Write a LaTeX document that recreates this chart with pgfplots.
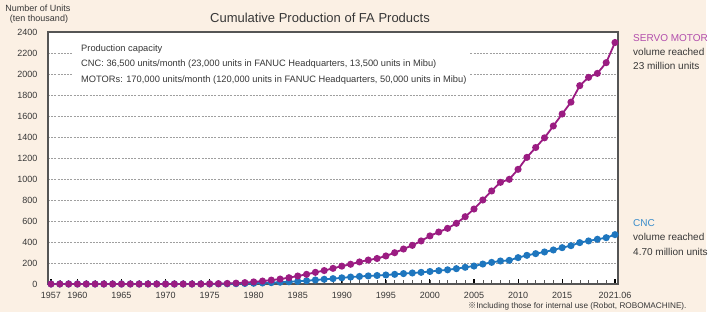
\documentclass[border=0pt]{standalone}
\usepackage{pgfplots}
\pgfplotsset{compat=1.18}
\usepackage{fontspec}
\setmainfont{Liberation Sans}
\newfontfamily\cjk{Noto Sans CJK JP}
\definecolor{bgpeach}{RGB}{251,240,228}
\definecolor{servo}{RGB}{155,28,130}
\definecolor{cncblue}{RGB}{30,118,190}
\definecolor{servolbl}{RGB}{178,78,172}
\definecolor{cnclbl}{RGB}{58,141,203}
\definecolor{txt}{RGB}{55,55,55}
\definecolor{frame}{RGB}{85,85,85}
\begin{document}
\begin{tikzpicture}[x=1pt,y=1pt]
\fill[bgpeach] (0,0) rectangle (706,312);
\useasboundingbox (0,0) rectangle (720,312);
\begin{axis}[
  at={(48pt,28pt)}, anchor=south west,
  scale only axis, width=570pt, height=252pt,
  xmin=1956.66, xmax=2021.34, ymin=0, ymax=2400,
  axis background/.style={fill=white},
  axis line style={frame, line width=1.1pt},
  ytick={0,200,400,600,800,1000,1200,1400,1600,1800,2000,2200,2400},
  xtick={1957,1960,1965,1970,1975,1980,1985,1990,1995,2000,2005,2010,2015,2021},
  xticklabels={1957,1960,1965,1970,1975,1980,1985,1990,1995,2000,2005,2010,2015,2021.06},
  minor xtick={1957,1958,...,2021},
  xtick pos=lower, ytick pos=left,
  tick align=inside,
  major x tick style={black, line width=1.1pt},
  minor x tick style={frame, line width=0.5pt},
  major tick length=5pt, minor tick length=4pt,
  ytick style={draw=none},
  ymajorgrids,
  major grid style={gray!75, dashed, line width=0.5pt, dash pattern=on 2pt off 1.2pt},
  /pgf/number format/1000 sep={},
  /pgf/number format/assume math mode=true,
  ticklabel style={font=\fontsize{9}{10}\selectfont, text=txt},
  yticklabel style={xshift=-7pt},
  xticklabel style={yshift=-4.5pt},
  clip=false,
]
\fill[white] (axis cs:1959.5,1860) rectangle (axis cs:2004.5,2330);
\addplot[cncblue, line width=1.8pt, mark=*, mark size=2.6pt] coordinates {
(1957,0)(1958,0)(1959,0)(1960,0)(1961,0)(1962,0)(1963,0)(1964,0)(1965,0)(1966,0)
(1967,0)(1968,0)(1969,0)(1970,0)(1971,0)(1972,0)(1973,0)(1974,0)(1975,0)(1976,1)
(1977,2)(1978,3)(1979,5)(1980,7)(1981,10)(1982,13)(1983,17)(1984,21)(1985,25)(1986,31)
(1987,38)(1988,45)(1989,51)(1990,59)(1991,66)(1992,72)(1993,77)(1994,81)(1995,86)(1996,92)
(1997,99)(1998,105)(1999,111)(2000,119)(2001,127)(2002,135)(2003,146)(2004,159)(2005,171)(2006,190)
(2007,206)(2008,219)(2009,225)(2010,251)(2011,273)(2012,289)(2013,305)(2014,324)(2015,346)(2016,365)
(2017,394)(2018,410)(2019,426)(2020,441)(2021,470)
};
\addplot[servo, line width=1.8pt, mark=*, mark size=2.6pt] coordinates {
(1957,0)(1958,0)(1959,0)(1960,0)(1961,0)(1962,0)(1963,0)(1964,0)(1965,0)(1966,0)
(1967,0)(1968,0)(1969,0)(1970,0)(1971,0)(1972,0)(1973,0)(1974,0)(1975,2)(1976,3)
(1977,5)(1978,8)(1979,13)(1980,20)(1981,28)(1982,37)(1983,47)(1984,60)(1985,76)(1986,92)
(1987,111)(1988,128)(1989,149)(1990,170)(1991,188)(1992,210)(1993,228)(1994,243)(1995,267)(1996,298)
(1997,333)(1998,368)(1999,410)(2000,458)(2001,495)(2002,530)(2003,578)(2004,641)(2005,714)(2006,800)
(2007,886)(2008,968)(2009,997)(2010,1092)(2011,1206)(2012,1300)(2013,1392)(2014,1505)(2015,1619)(2016,1732)
(2017,1889)(2018,1968)(2019,2006)(2020,2108)(2021,2300)
};
\end{axis}
\begin{scope}[every node/.style={inner sep=0pt, text=txt}]
\node[anchor=west, font=\fontsize{9.3}{11}\selectfont] at (81,263) {Production capacity};
\node[anchor=west, font=\fontsize{9.3}{11}\selectfont] at (81,248) {CNC: 36,500 units/month (23,000 units in FANUC Headquarters, 13,500 units in Mibu)};
\node[anchor=west, font=\fontsize{9.3}{11}\selectfont] at (81,232) {MOTORs: 170,000 units/month (120,000 units in FANUC Headquarters, 50,000 units in Mibu)};
\node[font=\fontsize{9}{10}\selectfont] at (38,304) {Number of Units};
\node[font=\fontsize{9}{10}\selectfont] at (39,293) {(ten thousand)};
\node[font=\fontsize{13}{15}\selectfont] at (320,294) {Cumulative Production of FA Products};
\node[anchor=west, font=\fontsize{10}{12}\selectfont, text=servolbl] at (633,274) {SERVO MOTOR};
\node[anchor=west, font=\fontsize{10}{12}\selectfont] at (633,260) {volume reached};
\node[anchor=west, font=\fontsize{10}{12}\selectfont] at (633,246) {23 million units};
\node[anchor=west, font=\fontsize{10}{12}\selectfont, text=cnclbl] at (633,89) {CNC};
\node[anchor=west, font=\fontsize{10}{12}\selectfont] at (633,75) {volume reached};
\node[anchor=west, font=\fontsize{10}{12}\selectfont] at (633,60) {4.70 million units};
\node[anchor=west, font=\fontsize{8.2}{9}\selectfont] at (468,6) {{\cjk ※}Including those for internal use (Robot, ROBOMACHINE).};
\end{scope}
\end{tikzpicture}
\end{document}
